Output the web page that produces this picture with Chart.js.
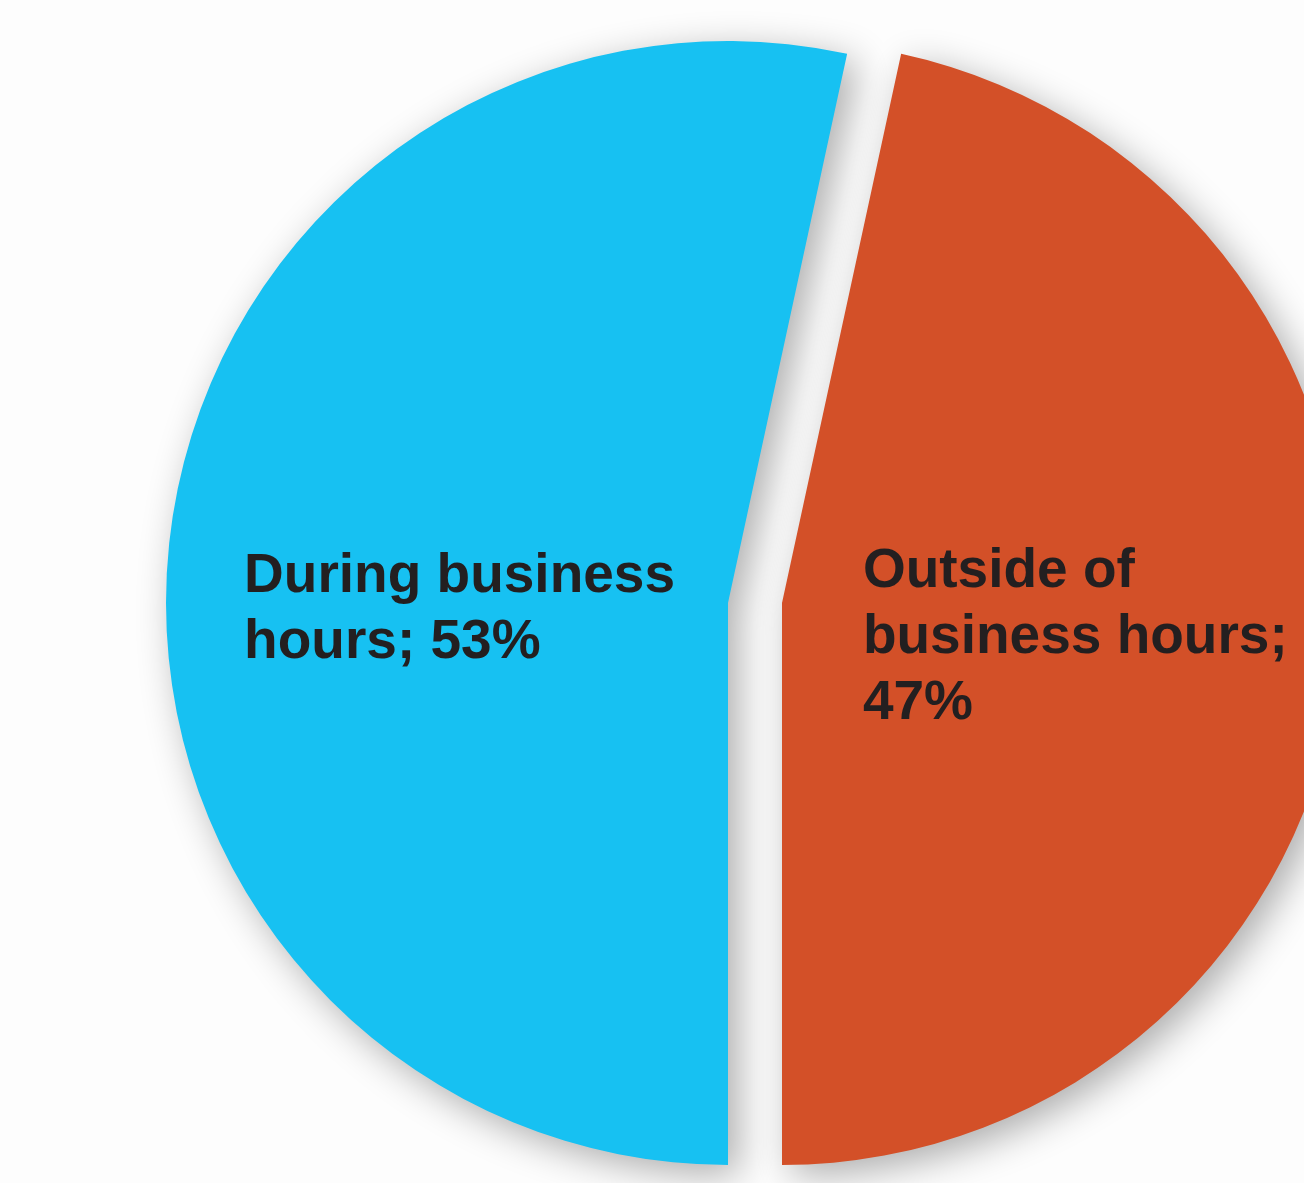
<!DOCTYPE html>
<html>
<head>
<meta charset="utf-8">
<script src="https://cdn.jsdelivr.net/npm/chart.js@4.4.1/dist/chart.umd.min.js"></script>
<style>
  html, body { margin: 0; padding: 0; background: #fdfdfd; }
  #wrap { width: 1304px; height: 1183px; position: relative; }
</style>
</head>
<body>
<div id="wrap"><canvas id="hourspie"></canvas></div>
<script>
var categories = ["During business hours", "Outside of business hours"];
// the printed labels are these rounded
var shares = [53.4, 46.6];
var sliceColors = ["#17c1f2", "#d35028"];

// lines of text printed on each slice
var labelLines = [
    ["During business", "hours; " + Math.round(shares[0]) + "%"],
    ["Outside of", "business hours;", Math.round(shares[1]) + "%"]
];

// where each label block starts, in units of the radius from the slice corner
var labelPos = [{dx: -0.861, dy: -0.02}, {dx: 0.144, dy: -0.028}];
var sliceGap = 27;

// pull the two halves apart sideways so the cut stays a parallel strip
var explode = {
    id: "explode",
    afterDatasetUpdate: function(chart, args) {
        args.meta.data.forEach(function(arc) {
            var mid = (arc.startAngle + arc.endAngle) / 2;
            arc.x += Math.sign(Math.cos(mid)) * sliceGap;
        });
    }
};

var pieShadow = {
    id: "pieShadow",
    beforeDatasetsDraw: function(chart) {
        var ctx = chart.ctx;
        ctx.save();
        ctx.shadowColor = "rgba(0,0,0,0.32)";
        ctx.shadowBlur = 38;
        ctx.shadowOffsetX = 10;
        ctx.shadowOffsetY = 10;
    },
    afterDatasetsDraw: function(chart) {
        chart.ctx.restore();
    }
};

var sliceText = {
    id: "sliceText",
    afterDraw: function(chart) {
        var ctx = chart.ctx;
        var arcs = chart.getDatasetMeta(0).data;
        ctx.save();
        ctx.fillStyle = "#231f20";
        ctx.font = "bold 55px 'Liberation Sans', Arial, sans-serif";
        ctx.textAlign = "left";
        ctx.textBaseline = "alphabetic";
        arcs.forEach(function(arc, i) {
            var r = arc.outerRadius;
            var x = arc.x + labelPos[i].dx * r;
            var y = arc.y + labelPos[i].dy * r;
            labelLines[i].forEach(function(line, j) {
                ctx.fillText(line, x, y + j * 66);
            });
        });
        ctx.restore();
    }
};

var ctx = document.getElementById("hourspie").getContext("2d");
var chart = new Chart(ctx, {
    type: "pie",
    data: {
        labels: categories,
        datasets: [{
            data: shares,
            backgroundColor: sliceColors,
            borderWidth: 0,
            hoverOffset: 0,
            radius: 562
        }]
    },
    options: {
        responsive: true,
        maintainAspectRatio: false,
        animation: false,
        rotation: 180,
        layout: { padding: { left: 206, top: 23, right: 0, bottom: 0 } },
        plugins: {
            legend: { display: false },
            tooltip: { enabled: false }
        },
        events: []
    },
    plugins: [explode, pieShadow, sliceText]
});
</script>
</body>
</html>
